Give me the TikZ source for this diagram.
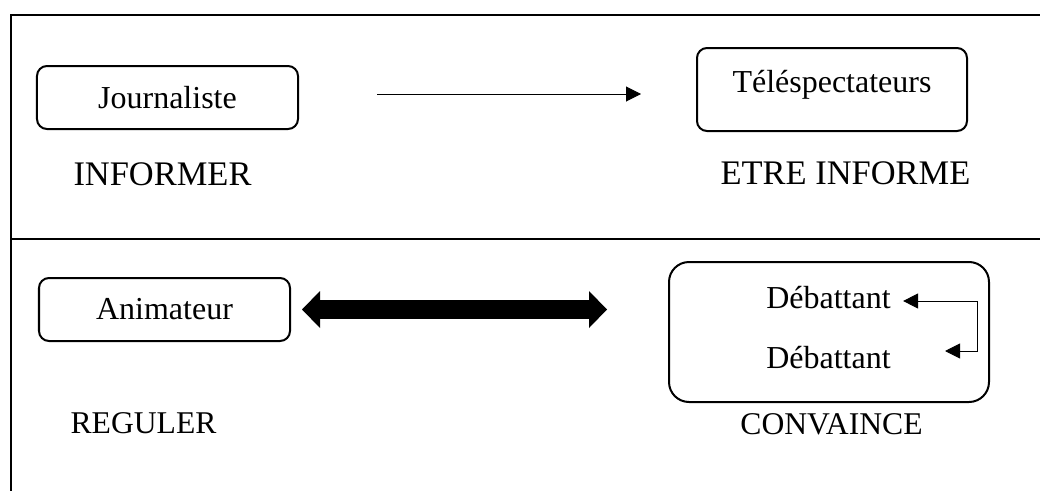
\documentclass[tikz,border=0pt]{standalone}
\usepackage{fontspec}
\setmainfont{Liberation Serif}
\usetikzlibrary{arrows.meta}

\begin{document}
\begin{tikzpicture}[x=1mm,y=1mm,
  box/.style={draw,line width=0.2mm,rounded corners=1mm,inner sep=0pt,font=\fontsize{9.1}{11}\selectfont},
  word/.style={font=\fontsize{9.1}{11}\selectfont},
  tag/.style={font=\fontsize{9}{11}\selectfont},
  bigtag/.style={font=\fontsize{9.8}{12}\selectfont},
  tip/.style={Triangle[length=1.5mm,width=1.5mm]},
  thinarrow/.style={line width=0.1mm,-{Triangle[length=1.5mm,width=1.5mm]}},
  bigarrow/.style={line width=1.9mm,
    {Triangle[length=1.8mm,width=3.7mm,line width=0pt]}-{Triangle[length=1.8mm,width=3.7mm,line width=0pt]}}]
\useasboundingbox (0,0) rectangle (104,-49.1);
\draw[line width=0.2mm] (104,-1.45)--(1.05,-1.45)--(1.05,-49.1);
\draw[line width=0.15mm] (1.05,-23.9)--(104,-23.9);

\node[box,minimum width=26.1mm,minimum height=6.3mm] (jour) at (16.75,-9.75) {Journaliste};
\node[box,minimum width=27mm,minimum height=8.3mm,text depth=1.7mm] (tele) at (83.2,-8.95) {Téléspectateurs};
\node[bigtag] (informer) at (16.25,-17.4) {INFORMER};
\node[bigtag] (etre) at (84.55,-17.3) {ETRE INFORME};
\draw[thinarrow] ([xshift=7.8mm,yshift=0.35mm]jour.east)--([xshift=-5.5mm,yshift=-0.45mm]tele.west);

\node[box,minimum width=25.1mm,minimum height=6.3mm] (anim) at (16.45,-30.95) {Animateur};
\node[draw,line width=0.2mm,rounded corners=2mm,minimum width=32mm,minimum height=14mm] (debat) at (82.9,-33.2) {};
\node[word] (deb1) at (82.85,-29.8) {Débattant};
\node[word] (deb2) at (82.85,-35.8) {Débattant};
\node[tag] (reguler) at (14.35,-42.3) {REGULER};
\node[tag] (convaince) at (83.15,-42.4) {CONVAINCE};
\draw[bigarrow,shorten <=1.1mm,shorten >=6.1mm] (anim.east)--(anim.east -| debat.west);
\coordinate (turn) at (97.7,-35.1);
\coordinate (back) at (94.5,-35.1);
\draw[line width=0.1mm,{Triangle[length=1.5mm,width=1.5mm]}-{Triangle[length=1.5mm,width=1.5mm]}] ([yshift=-0.3mm]deb1.east) -| (turn)--(back);
\end{tikzpicture}
\end{document}
